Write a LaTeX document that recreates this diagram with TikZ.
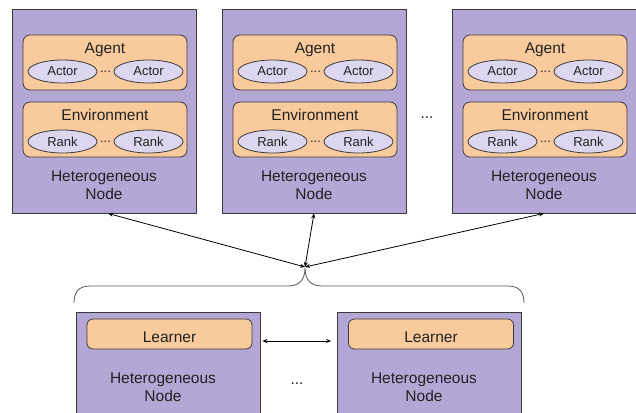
\documentclass[tikz,border=0pt]{standalone}
\usepackage{fontspec}
\setmainfont{Liberation Sans}
\usetikzlibrary{arrows.meta,calc,shapes.geometric}

\definecolor{hetfill}{HTML}{B4A7D6}
\definecolor{groupfill}{HTML}{F9CB9C}
\definecolor{procfill}{HTML}{DCD6EE}
\definecolor{edge}{HTML}{3A3A3A}
\definecolor{ink}{HTML}{222222}
\definecolor{bracecol}{HTML}{555555}

\begin{document}
\begin{tikzpicture}[x=1pt,y=-1pt,
  hetbox/.style={draw=edge, fill=hetfill, line width=0.8pt, inner sep=0pt,
    minimum width=184pt, minimum height=204pt},
  lowbox/.style={draw=edge, fill=hetfill, line width=0.8pt, inner sep=0pt,
    minimum width=184pt, minimum height=120pt, anchor=north},
  groupbox/.style={draw=edge, fill=groupfill, line width=0.8pt, rounded corners=7pt,
    inner sep=0pt, minimum width=164pt, minimum height=55pt},
  learnbox/.style={draw=edge, fill=groupfill, line width=0.8pt, rounded corners=6pt,
    inner sep=0pt, minimum width=165pt, minimum height=30pt, text=ink,
    text height=17pt, text depth=0pt,
    font=\fontsize{15.5}{17}\selectfont},
  proc/.style={ellipse, draw=edge, fill=procfill, line width=0.8pt, inner sep=0pt,
    minimum width=69pt, minimum height=23pt, text=ink,
    font=\fontsize{13}{15}\selectfont},
  grouplabel/.style={text=ink, inner sep=0pt, font=\fontsize{15.5}{17}\selectfont},
  hetcaption/.style={text=ink, align=center, inner sep=0pt,
    font=\fontsize{15.5}{18}\selectfont},
  gap/.style={text=ink, inner sep=0pt, anchor=base},
  biarrow/.style={draw=black, line width=0.8pt,
    {Stealth[length=5pt,width=4pt]}-{Stealth[length=5pt,width=4pt]}}
]
\clip (0,0) rectangle (636,412);

% three heterogeneous nodes running agents and environments
\foreach \i/\dx in {1/0,2/210,3/440} {
  \begin{scope}[xshift=\dx pt]
    \node[hetbox] (het\i) at (104,111) {};
    \node[groupbox] (agent\i) at (105,62.5) {};
    \node[grouplabel] (agentlbl\i) at (105,50) {Agent};
    \node[proc] (actorA\i) at (62.5,71.5) {Actor};
    \node[proc] (actorB\i) at (148.5,71.5) {Actor};
    \node[gap, font=\fontsize{13}{15}\selectfont] (actordots\i) at (105.5,72) {...};
    \node[groupbox] (env\i) at (105,129.5) {};
    \node[grouplabel] (envlbl\i) at (105,115) {Environment};
    \node[proc] (rankA\i) at (62.5,141.5) {Rank};
    \node[proc] (rankB\i) at (148.5,141.5) {Rank};
    \node[gap, font=\fontsize{13}{15}\selectfont] (rankdots\i) at (105.5,142) {...};
    \node[hetcaption] (cap\i) at (104,185) {Heterogeneous\\Node};
  \end{scope}
}
\node[gap, font=\fontsize{15.5}{17}\selectfont] (topdots) at (427,118) {...};

% learner nodes
\node[lowbox] (hetL) at (168,312) {};
\node[learnbox] (learnL) at (169.5,334) {Learner};
\node[hetcaption] (capL) at (163,387) {Heterogeneous\\Node};
\node[lowbox] (hetR) at (429.5,312) {};
\node[learnbox] (learnR) at (431,334) {Learner};
\node[hetcaption] (capR) at (424,387) {Heterogeneous\\Node};
\node[gap, font=\fontsize{15.5}{17}\selectfont] (lowdots) at (297,384) {...};

% brace grouping the learners
\draw[bracecol, line width=0.8pt]
  (74,303) .. controls (74,292) and (79,286) .. (90,286) -- (288,286)
  .. controls (299,286) and (305,280) .. (305,268)
  .. controls (305,280) and (311,286) .. (322,286) -- (508,286)
  .. controls (519,286) and (524,292) .. (524,303);

\coordinate (hub) at (305,267);
\draw[biarrow] ([xshift=4pt]het1.south) -- (hub);
\draw[biarrow] (het2.south) -- (hub);
\draw[biarrow] (het3.south) -- (hub);
\draw[biarrow] ($(learnL.east -| hetL.east)+(2,7)$) -- ($(learnR.west -| hetR.west)+(-6,7)$);
\end{tikzpicture}
\end{document}
